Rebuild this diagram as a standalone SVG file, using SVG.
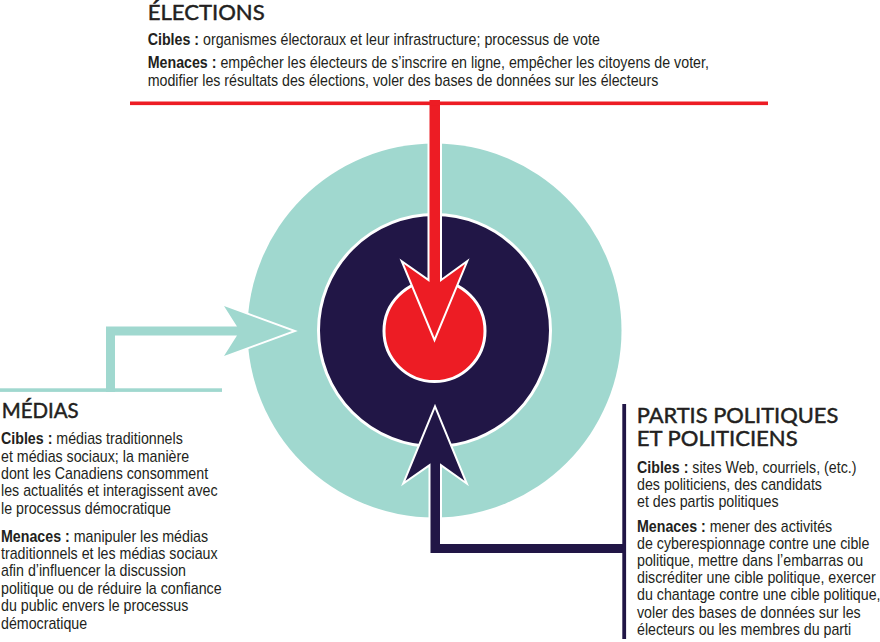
<svg xmlns="http://www.w3.org/2000/svg" width="880" height="642" viewBox="0 0 880 642">
<style>
.h{font-family:Lato,"Noto Sans","Liberation Sans",sans-serif;font-size:21px;fill:#231f20;stroke:#231f20;stroke-width:0.45px;}
.t{font-family:"Liberation Sans",Arial,sans-serif;font-size:16px;fill:#231f20;}
.b{font-weight:bold;}
.arrow{stroke:#fff;stroke-width:4;paint-order:stroke;stroke-linejoin:miter;stroke-miterlimit:6;}
</style>
<rect width="880" height="642" fill="#fff"/>
<g id="cible">
<circle cx="434.5" cy="330.5" r="187" fill="#a0d8cf"/>
<circle cx="434.5" cy="330.5" r="116" fill="#211646" stroke="#fff" stroke-width="3"/>
<circle cx="434.5" cy="331" r="50.5" fill="#ed1c24" stroke="#fff" stroke-width="3"/>
</g>
<g id="connecteurs">
<polygon class="arrow" fill="#a0d8cf" points="106,392 106,326.5 237,326.5 224,306 292,331 224,356 237,335.5 115,335.5 115,392"/>
<rect x="0" y="388.3" width="222" height="3.6" fill="#a0d8cf"/>
<polygon class="arrow" fill="#ed1c24" points="429.5,100 429.5,282 404,264 434.5,337.5 465,264 440,282 440,100"/>
<rect x="130" y="101.5" width="638" height="3.6" fill="#ed1c24"/>
<polygon class="arrow" fill="#211646" points="626,544 440,544 440,463.3 464.5,480.7 435,409 405.5,480.7 430.5,463.3 430.5,553 626,553"/>
<rect x="622.3" y="404" width="3.8" height="235" fill="#211646"/>
</g>
<g id="elections">
<text class="h" x="147.7" y="20" textLength="117" lengthAdjust="spacingAndGlyphs">ÉLECTIONS</text>
<g transform="translate(147.7 0) scale(0.89 1)">
<text class="t" x="0" y="45"><tspan class="b">Cibles :</tspan> organismes électoraux et leur infrastructure; processus de vote</text>
<text class="t" x="0" y="68.5"><tspan class="b">Menaces :</tspan> empêcher les électeurs de s’inscrire en ligne, empêcher les citoyens de voter,</text>
<text class="t" x="0" y="86.5">modifier les résultats des élections, voler des bases de données sur les électeurs</text>
</g>
</g>
<g id="medias">
<text class="h" x="1.7" y="417.7" textLength="77" lengthAdjust="spacingAndGlyphs">MÉDIAS</text>
<g transform="translate(1 0) scale(0.89 1)">
<text class="t" x="0" y="444.3"><tspan class="b">Cibles :</tspan> médias traditionnels</text>
<text class="t" x="0" y="461.7">et médias sociaux; la manière</text>
<text class="t" x="0" y="479.1">dont les Canadiens consomment</text>
<text class="t" x="0" y="496.5">les actualités et interagissent avec</text>
<text class="t" x="0" y="513.9">le processus démocratique</text>
<text class="t" x="0" y="541.7"><tspan class="b">Menaces :</tspan> manipuler les médias</text>
<text class="t" x="0" y="559.1">traditionnels et les médias sociaux</text>
<text class="t" x="0" y="576.5">afin d’influencer la discussion</text>
<text class="t" x="0" y="593.9">politique ou de réduire la confiance</text>
<text class="t" x="0" y="611.3">du public envers le processus</text>
<text class="t" x="0" y="628.7">démocratique</text>
</g>
</g>
<g id="partis">
<text class="h" x="636.7" y="422.7" textLength="201.6" lengthAdjust="spacingAndGlyphs">PARTIS POLITIQUES</text>
<text class="h" x="636.7" y="445.7" textLength="161" lengthAdjust="spacingAndGlyphs">ET POLITICIENS</text>
<g transform="translate(637 0) scale(0.89 1)">
<text class="t" x="0" y="473.5"><tspan class="b">Cibles :</tspan> sites Web, courriels, (etc.)</text>
<text class="t" x="0" y="490.5">des politiciens, des candidats</text>
<text class="t" x="0" y="507.5">et des partis politiques</text>
<text class="t" x="0" y="531.7"><tspan class="b">Menaces :</tspan> mener des activités</text>
<text class="t" x="0" y="548.9">de cyberespionnage contre une cible</text>
<text class="t" x="0" y="566.1">politique, mettre dans l’embarras ou</text>
<text class="t" x="0" y="583.3">discréditer une cible politique, exercer</text>
<text class="t" x="0" y="600.5">du chantage contre une cible politique,</text>
<text class="t" x="0" y="617.7">voler des bases de données sur les</text>
<text class="t" x="0" y="634.9">électeurs ou les membres du parti</text>
</g>
</g>
</svg>
